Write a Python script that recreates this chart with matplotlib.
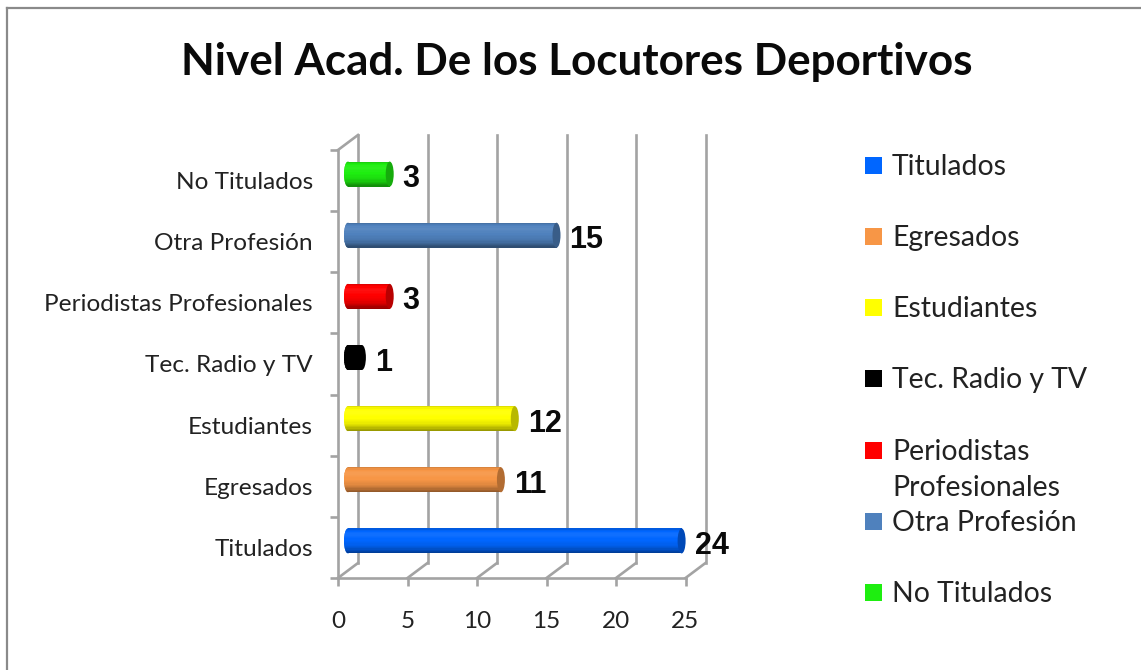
import matplotlib
matplotlib.use("Agg")
import matplotlib.pyplot as plt
from matplotlib.patches import Ellipse, Rectangle
from matplotlib.lines import Line2D
from matplotlib.colors import to_rgb

categories = ["Titulados", "Egresados", "Estudiantes", "Tec. Radio y TV",
              "Periodistas Profesionales", "Otra Profesión", "No Titulados"]
values = [24, 11, 12, 1, 3, 15, 3]
colors = ["#0066FF", "#F79646", "#FFFF00", "#000000", "#FF0000", "#4F81BD", "#1EEE10"]
legend_labels = ["Titulados", "Egresados", "Estudiantes", "Tec. Radio y TV",
                 "Periodistas\nProfesionales", "Otra Profesión", "No Titulados"]
x_ticks = [0, 5, 10, 15, 20, 25]
title = "Nivel Acad. De los Locutores Deportivos"
shades = [0.88, 0.96, 1.0, 1.02, 1.03, 1.03, 1.02, 1.01, 1.0, 1.0, 0.98, 0.96,
          0.94, 0.92, 0.88, 0.84, 0.78, 0.72, 0.65, 0.6]

W, H = 1141, 670
FONT = "Lato"
GRAY = "#A3A3A3"
fig = plt.figure(figsize=(W / 100, H / 100), dpi=100, facecolor="white")
ax = fig.add_axes([338 / W, 1 - 578 / H, (685.5 - 338) / W, (578 - 150) / H])
ax.set_xlim(0, 25)
ax.set_ylim(0, 7)
ax.patch.set_visible(False)

px_x = 25 / (685.5 - 338)
px_y = 7 / (578 - 150)
depth_x, depth_y = 20 * px_x, 15 * px_y
bar_dx, bar_dy = 10 * px_x, 6.5 * px_y
bar_h = 25 * px_y
cap_w = 8 * px_x
LW = 1.9

# walls
for t in x_ticks:
    ax.plot([t + depth_x] * 2, [depth_y, 7 + depth_y], color=GRAY, lw=LW, clip_on=False, zorder=1)
    ax.plot([t, t + depth_x], [0, depth_y], color=GRAY, lw=LW, clip_on=False, zorder=1)
ax.plot([0, depth_x], [7, 7 + depth_y], color=GRAY, lw=LW, clip_on=False, zorder=1)

def shade(c, f):
    r = to_rgb(c)
    if f <= 1:
        return tuple(v * f for v in r)
    return tuple(min(1, v + (1 - v) * (f - 1) * 2) if max(r) > 0 else 0.0 for v in r)

for i, (v, c) in enumerate(zip(values, colors)):
    yc = i + 0.5 + bar_dy
    n = len(shades)
    sh = bar_h / n
    left = Ellipse((bar_dx, yc), cap_w, bar_h, transform=ax.transData, facecolor=shade(c, 0.95),
                   edgecolor="none", zorder=3, clip_on=False)
    ax.add_patch(left)
    for k, f in enumerate(shades):
        yk = yc + bar_h / 2 - (k + 0.5) * sh
        ax.barh(yk, v, left=bar_dx, height=sh * 1.1, color=shade(c, f), linewidth=0, zorder=3, clip_on=False)
        edge = ax.barh(yk, cap_w / 2, left=bar_dx - cap_w / 2, height=sh * 1.1,
                       color=shade(c, f), linewidth=0, zorder=3.5)
        edge[0].set_clip_path(left)
    ax.add_patch(Ellipse((v + bar_dx, yc), cap_w, bar_h, facecolor=shade(c, 0.72),
                         edgecolor="none", zorder=4, clip_on=False))
    ax.annotate(str(v), xy=(v + bar_dx + cap_w / 2, yc), xytext=(9, -5), textcoords="offset pixels",
                ha="left", va="center", family="Liberation Sans", fontweight="bold",
                fontsize=22, color="#0A0A0A", zorder=5, annotation_clip=False)

# axes
for s in ("top", "right"):
    ax.spines[s].set_visible(False)
for s in ("left", "bottom"):
    ax.spines[s].set_color(GRAY)
    ax.spines[s].set_linewidth(LW)
ax.set_xticks(x_ticks)
ax.set_yticks(range(8))
ax.set_yticklabels([])
ax.set_yticks([i + 0.5 for i in range(7)], labels=categories, minor=True)
ax.tick_params(axis="y", which="major", length=6, width=LW, color=GRAY)
ax.tick_params(axis="y", which="minor", length=0, pad=18, labelsize=17.6, labelcolor="#222222")
ax.tick_params(axis="x", which="major", length=6, width=LW, color=GRAY, pad=17.5, labelsize=17.5, labelcolor="#222222")
for lab in ax.get_xticklabels() + ax.get_yticklabels(minor=True):
    lab.set_family(FONT)

# title
fig.text(577 / W, 1 - 62 / H, title, ha="center", va="center", family=FONT, fontweight="bold",
         fontsize=31.7, color="#0A0A0A")

# legend
rows = [165, 236, 307, 378, 450, 521, 592]
for lbl, c, y in zip(legend_labels, colors, rows):
    fig.add_artist(Rectangle((865 / W, 1 - (y + 8.5) / H), 17 / W, 17 / H, facecolor=c,
                             edgecolor="none", transform=fig.transFigure))
    fig.text(892 / W, 1 - (y - 11) / H, lbl, ha="left", va="top", family=FONT, fontsize=20.4,
             color="#222222", linespacing=1.5)

# outer frame
fig.add_artist(Line2D([7 / W, 7 / W], [0, 1 - 8 / H], color="#8A8A8A", lw=1.6))
fig.add_artist(Line2D([7 / W, 1], [1 - 8 / H, 1 - 8 / H], color="#8A8A8A", lw=1.6))

fig.savefig("out.png", dpi=100)
